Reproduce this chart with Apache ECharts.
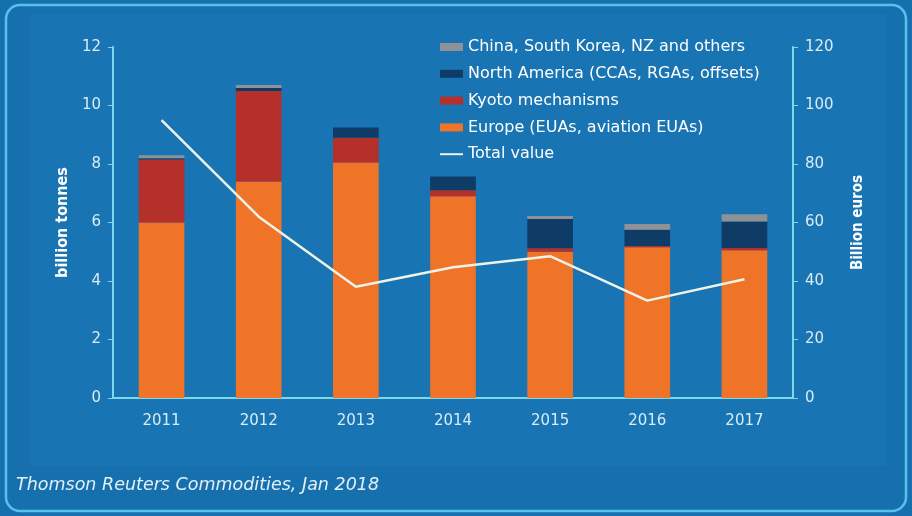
<!DOCTYPE html>
<html><head><meta charset="utf-8">
<script src="https://cdn.jsdelivr.net/npm/echarts@6/dist/echarts.min.js"></script>
<style>html,body{margin:0;padding:0;background:#1670ad;}#c{width:912px;height:516px;}</style>
</head><body><div id="c"></div>
<script>
const categories = ['2011','2012','2013','2014','2015','2016','2017'];
const europe = [6.0, 7.4, 8.05, 6.9, 5.0, 5.15, 5.05];
const kyoto = [2.15, 3.1, 0.85, 0.2, 0.12, 0.05, 0.08];
const northAmerica = [0.05, 0.1, 0.35, 0.47, 1.0, 0.55, 0.9];
const others = [0.1, 0.1, 0.0, 0.0, 0.1, 0.2, 0.25];
const totalValue = [95, 62, 38, 44.7, 48.5, 33.3, 40.6];
const leftTicks = [0, 2, 4, 6, 8, 10, 12];
const rightTicks = [0, 20, 40, 60, 80, 100, 120];

const axisColor = '#7fd8ea';
const labelColor = '#d8ecf6';
const font = '"DejaVu Sans", sans-serif';
const lineColor = '#eef3ea';

const chart = echarts.init(document.getElementById('c'), null, {renderer:'canvas'});
chart.setOption({
  backgroundColor: '#1670ad',
  animation: false,
  graphic: [
    {type:'rect', z:-10, shape:{x:30, y:14, width:856, height:452}, style:{fill:'#1874b2'}},
    {type:'rect', z:-9, shape:{x:6, y:5, width:900, height:506, r:14}, style:{fill:'none', stroke:'#56c2ec', lineWidth:2.5}},
    {type:'text', left:16, top:476, style:{text:'Thomson Reuters Commodities, Jan 2018', fill:'#e4f0f8', font:'italic 17.5px "DejaVu Sans", sans-serif'}}
  ],
  legend: {
    orient:'vertical', left:435, top:34, itemGap:10.8, itemWidth:23, itemHeight:8,
    textStyle:{color:'#ffffff', fontSize:16, fontFamily:font},
    data:[
      {name:'China, South Korea, NZ and others', icon:'rect'},
      {name:'North America (CCAs, RGAs, offsets)', icon:'rect'},
      {name:'Kyoto mechanisms', icon:'rect'},
      {name:'Europe (EUAs, aviation EUAs)', icon:'rect'},
      {name:'Total value', icon:'path://M0,0 L23,0 L23,2 L0,2 Z', itemStyle:{color:lineColor}}
    ]
  },
  grid: {left:113, right:119, top:47, bottom:118},
  xAxis: {
    type:'category', data:categories,
    axisLine:{lineStyle:{color:axisColor, width:2}},
    axisTick:{lineStyle:{color:axisColor}, length:5},
    axisLabel:{color:labelColor, fontSize:15, fontFamily:font, margin:16}
  },
  yAxis: [
    {type:'value', min:0, max:12, interval:2, position:'left',
     name:'billion tonnes', nameLocation:'middle', nameGap:41, nameRotate:90,
     nameTextStyle:{color:'#ffffff', fontSize:16, fontWeight:'bold', fontFamily:'"Liberation Sans Narrow", "DejaVu Sans Condensed", sans-serif'},
     axisLine:{show:true, lineStyle:{color:axisColor, width:2}},
     axisTick:{show:true, length:5, lineStyle:{color:axisColor}},
     axisLabel:{color:labelColor, fontSize:15, fontFamily:font, margin:12, formatter:v=>leftTicks.includes(v)?String(v):''},
     splitLine:{show:false}},
    {type:'value', min:0, max:120, interval:20, position:'right',
     name:'Billion euros', nameLocation:'middle', nameGap:58, nameRotate:90,
     nameTextStyle:{color:'#ffffff', fontSize:15, fontWeight:'bold', fontFamily:'"Liberation Sans Narrow", "DejaVu Sans Condensed", sans-serif'},
     axisLine:{show:true, lineStyle:{color:axisColor, width:2}},
     axisTick:{show:true, length:5, lineStyle:{color:axisColor}},
     axisLabel:{color:labelColor, fontSize:15, fontFamily:font, margin:12, formatter:v=>rightTicks.includes(v)?String(v):''},
     splitLine:{show:false}}
  ],
  series: [
    {name:'Europe (EUAs, aviation EUAs)', type:'bar', stack:'t', data:europe, barWidth:'47%', itemStyle:{color:'#f07427'}},
    {name:'Kyoto mechanisms', type:'bar', stack:'t', data:kyoto, itemStyle:{color:'#b5302a'}},
    {name:'North America (CCAs, RGAs, offsets)', type:'bar', stack:'t', data:northAmerica, itemStyle:{color:'#0e3c66'}},
    {name:'China, South Korea, NZ and others', type:'bar', stack:'t', data:others, itemStyle:{color:'#8e9296'}},
    {name:'Total value', type:'line', yAxisIndex:1, data:totalValue, symbol:'none', lineStyle:{color:lineColor, width:2.5}, itemStyle:{color:lineColor}}
  ]
});
</script></body></html>
